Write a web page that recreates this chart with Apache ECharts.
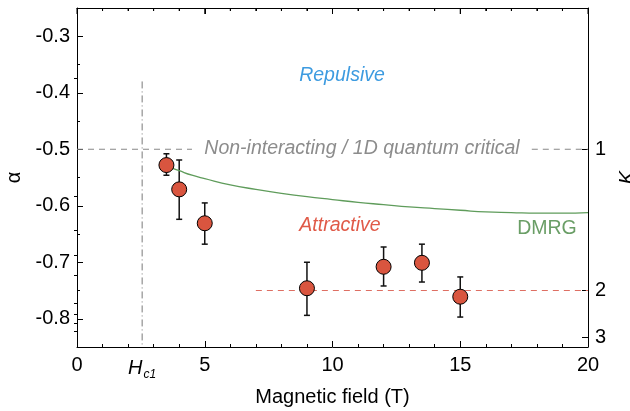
<!DOCTYPE html>
<html>
<head>
<meta charset="utf-8">
<script src="https://cdn.jsdelivr.net/npm/echarts@6/dist/echarts.min.js"></script>
<style>
  html, body { margin: 0; padding: 0; background: #fff; }
  #chart { width: 630px; height: 411px; }
</style>
</head>
<body>
<div id="chart"></div>
<script>
// measured points (field in T, alpha with error bars)
const fieldT = [3.5, 4, 5, 9, 12, 13.5, 15];
const alphaVals = [-0.528, -0.571, -0.631, -0.746, -0.708, -0.701, -0.761];
const errLow = [-0.546, -0.624, -0.668, -0.794, -0.742, -0.735, -0.797];
const errHigh = [-0.508, -0.519, -0.595, -0.700, -0.673, -0.668, -0.726];

// DMRG curve
const dmrgField = [3.7, 4, 4.5, 5, 6, 7, 8, 9, 10, 11, 12, 13, 14, 15, 16, 17, 18, 19, 20];
const dmrgAlpha = [-0.533, -0.538, -0.546, -0.552, -0.563, -0.571, -0.578, -0.584, -0.589,
  -0.594, -0.598, -0.602, -0.605, -0.608, -0.611, -0.612, -0.613, -0.613, -0.612];

// reference lines
const hc1 = 2.55;
const hc1Line = [[hc1, -0.38], [hc1, -0.85]];
const nonIntLeft = [[0, -0.5], [4.5, -0.5]];
const nonIntRight = [[17.8, -0.5], [20, -0.5]];
const attractLine = [[7, -0.75], [20, -0.75]];

// ticks
const xLabels = [0, hc1, 5, 10, 15, 20];
const xMajor = [0, 5, 10, 15, 20];
const xMinor = [1, 2, 3, 4, 6, 7, 8, 9, 11, 12, 13, 14, 16, 17, 18, 19];
const alphaMajor = [-0.8, -0.7, -0.6, -0.5, -0.4, -0.3];
const alphaMinor = [-0.85, -0.75, -0.65, -0.55, -0.45, -0.35, -0.25];
const kMajor = [1, 2, 3];
const kMinor = [0.8, 1.2, 1.4, 1.6, 1.8, 2.2, 2.4, 2.6, 2.8];

// alpha = -1 + 1/(2K)
const kToAlpha = k => -1 + 1 / (2 * k);
const alphaToK = a => 1 / (2 * (a + 1));

const font = 'Liberation Sans, Arial, sans-serif';
const black = '#000';

let mycharts = echarts.init(document.getElementById('chart'));

const baseY = {
  type: 'value',
  min: -0.85,
  max: -0.25,
  splitLine: { show: false },
  axisLine: { show: true, onZero: false, lineStyle: { color: black, width: 1 } },
};

// text label helper, centred on (x, y)
const label = (text, x, y, color, style) => ({
  type: 'text',
  x: x,
  y: y,
  style: { text: text, fill: color, font: style + ' 19.5px ' + font, align: 'center', verticalAlign: 'middle' },
});

var option = {
  animation: false,
  grid: { left: 77, right: 42, top: 8, bottom: 64, outerBoundsMode: 'none', containLabel: false },
  xAxis: [
    {
      type: 'value',
      min: 0,
      max: 20,
      interval: 5,
      name: 'Magnetic field (T)',
      nameLocation: 'middle',
      nameGap: 40,
      nameTextStyle: { fontFamily: font, fontSize: 20, color: black },
      splitLine: { show: false },
      axisLine: { onZero: false, lineStyle: { color: black, width: 1 } },
      axisTick: { inside: true, length: 6, customValues: xMajor, lineStyle: { color: black } },
      minorTick: { show: true, splitNumber: 5, length: 3, lineStyle: { color: black } },
      axisLabel: {
        customValues: xLabels,
        margin: 8,
        fontFamily: font,
        fontSize: 20,
        color: black,
        formatter: v => (Math.abs(v - hc1) < 1e-6 ? '{h|H}{s|c1}' : String(v)),
        rich: {
          h: { fontFamily: font, fontSize: 20, fontStyle: 'italic', color: black },
          s: { fontFamily: font, fontSize: 12, fontStyle: 'italic', color: black, padding: [14, 0, 0, 1] },
        },
      },
    },
    {
      // mirrored top axis line
      type: 'value',
      position: 'top',
      min: 0,
      max: 20,
      interval: 5,
      splitLine: { show: false },
      axisLine: { show: true, onZero: false, lineStyle: { color: black, width: 1 } },
      axisTick: { show: true, inside: true, length: 6, lineStyle: { color: black } },
      minorTick: { show: true, splitNumber: 5, length: 3, lineStyle: { color: black } },
      axisLabel: { show: true, formatter: () => '' },
    },
  ],
  yAxis: [
    Object.assign({}, baseY, {
      position: 'left',
      name: 'α',
      nameLocation: 'middle',
      nameRotate: 90,
      nameGap: 52,
      nameTextStyle: { fontFamily: font, fontSize: 20, color: black },
      axisTick: { inside: true, length: 6, customValues: alphaMajor, lineStyle: { color: black } },
      axisLabel: {
        customValues: alphaMajor,
        margin: 7,
        fontFamily: font,
        fontSize: 20,
        color: black,
        formatter: v => v.toFixed(1),
      },
    }),
    Object.assign({}, baseY, {
      position: 'left',
      axisLine: { show: false },
      axisTick: { inside: true, length: 3, customValues: alphaMinor, lineStyle: { color: black } },
      axisLabel: { show: false },
    }),
    Object.assign({}, baseY, {
      position: 'right',
      name: 'K',
      nameLocation: 'middle',
      nameRotate: 90,
      nameGap: 26,
      nameTextStyle: { fontFamily: font, fontSize: 20, fontStyle: 'italic', color: black },
      axisTick: { inside: true, length: 6, customValues: kMajor.map(kToAlpha), lineStyle: { color: black } },
      axisLabel: {
        customValues: kMajor.map(kToAlpha),
        margin: 7,
        fontFamily: font,
        fontSize: 20,
        color: black,
        formatter: v => String(Math.round(alphaToK(v))),
      },
    }),
    Object.assign({}, baseY, {
      position: 'right',
      axisLine: { show: false },
      axisTick: { inside: true, length: 3, customValues: kMinor.map(kToAlpha), lineStyle: { color: black } },
      axisLabel: { show: false },
    }),
  ],
  graphic: [
    label('Repulsive', 342, 76, '#3d9be0', 'italic'),
    label('Non-interacting / 1D quantum critical', 362, 149, '#8c8c8c', 'italic'),
    label('Attractive', 340, 226, '#e05a48', 'italic'),
    label('DMRG', 547, 229, '#6a9e66', 'normal'),
  ],
  series: [
    {
      // top-edge ticks, placed through the x scale
      name: 'topTicks',
      type: 'custom',
      silent: true,
      data: xMajor.map(v => [v, 6]).concat(xMinor.map(v => [v, 3])),
      renderItem: function (params, api) {
        const cs = params.coordSys;
        const px = api.coord([api.value(0), -0.25])[0];
        return {
          type: 'line',
          shape: { x1: px, y1: cs.y, x2: px, y2: cs.y + api.value(1) },
          style: { stroke: black, lineWidth: 1 },
        };
      },
    },
    {
      name: 'Hc1',
      type: 'line',
      data: hc1Line,
      symbol: 'none',
      lineStyle: { color: '#7a7a7a', width: 1, type: [7, 3, 1, 3] },
    },
    {
      name: 'nonIntLeft',
      type: 'line',
      data: nonIntLeft,
      symbol: 'none',
      lineStyle: { color: '#888', width: 1.2, type: [6, 5] },
    },
    {
      name: 'nonIntRight',
      type: 'line',
      data: nonIntRight,
      symbol: 'none',
      lineStyle: { color: '#888', width: 1.2, type: [6, 5] },
    },
    {
      name: 'attractive',
      type: 'line',
      data: attractLine,
      symbol: 'none',
      lineStyle: { color: '#de6f63', width: 1.2, type: [6, 5] },
    },
    {
      name: 'DMRG',
      type: 'line',
      smooth: true,
      symbol: 'none',
      data: dmrgField.map((x, i) => [x, dmrgAlpha[i]]),
      lineStyle: { color: '#5f9c5b', width: 1.3 },
    },
    {
      name: 'errors',
      type: 'custom',
      z: 3,
      data: fieldT.map((x, i) => [x, errLow[i], errHigh[i]]),
      renderItem: function (params, api) {
        const lo = api.coord([api.value(0), api.value(1)]);
        const hi = api.coord([api.value(0), api.value(2)]);
        const cap = 3;
        const style = { stroke: '#111', lineWidth: 1.5 };
        return {
          type: 'group',
          children: [
            { type: 'line', shape: { x1: lo[0], y1: lo[1], x2: hi[0], y2: hi[1] }, style: style },
            { type: 'line', shape: { x1: lo[0] - cap, y1: lo[1], x2: lo[0] + cap, y2: lo[1] }, style: style },
            { type: 'line', shape: { x1: hi[0] - cap, y1: hi[1], x2: hi[0] + cap, y2: hi[1] }, style: style },
          ],
        };
      },
    },
    {
      name: 'alpha',
      type: 'scatter',
      z: 4,
      symbolSize: 15,
      data: fieldT.map((x, i) => [x, alphaVals[i]]),
      itemStyle: { color: '#d9553f', borderColor: '#000', borderWidth: 1, opacity: 1 },
    },
  ],
};

mycharts.setOption(option);
</script>
</body>
</html>
